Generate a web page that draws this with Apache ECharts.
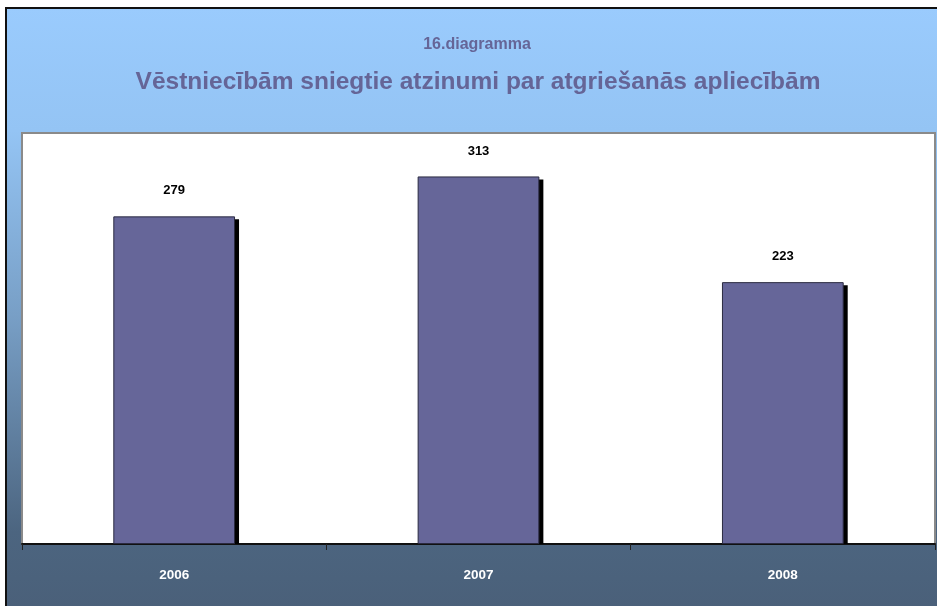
<!DOCTYPE html>
<html>
<head>
<meta charset="utf-8">
<script src="https://cdn.jsdelivr.net/npm/echarts@6/dist/echarts.min.js"></script>
<style>
html,body{margin:0;padding:0;background:#fff;}
#chart{width:937px;height:606px;}
</style>
</head>
<body>
<div id="chart"></div>
<script>
const years = ['2006', '2007', '2008'];
const counts = [279, 313, 223];
const titleSmall = '16.diagramma';
const titleMain = 'Vēstniecībām sniegtie atzinumi par atgriešanās apliecībām';

const colorSets = {
    title: '#656597',
    bar: '#666699',
    barBorder: '#2a2a40',
    shadow: '#000',
    plotBorder: '#8a8a8a'
};

const chart = echarts.init(document.getElementById('chart'));

chart.setOption({
    animation: false,
    textStyle: { fontFamily: 'Liberation Sans, Arial, sans-serif' },
    graphic: [
        {
            type: 'rect',
            z: -10,
            silent: true,
            shape: { x: 6, y: 8, width: 945, height: 615 },
            style: {
                stroke: '#111',
                lineWidth: 2,
                fill: new echarts.graphic.LinearGradient(0, 0, 0, 1, [
                    { offset: 0, color: '#9acbfd' },
                    { offset: 0.2, color: '#94c4f4' },
                    { offset: 0.5, color: '#789fc6' },
                    { offset: 0.85, color: '#4c6580' },
                    { offset: 1, color: '#4a5f78' }
                ])
            }
        },
        {
            type: 'text',
            x: 477, y: 45,
            style: {
                text: titleSmall,
                fill: colorSets.title,
                font: 'bold 16px Liberation Sans, Arial, sans-serif',
                textAlign: 'center',
                textVerticalAlign: 'middle'
            }
        },
        {
            type: 'text',
            x: 478, y: 82,
            style: {
                text: titleMain,
                fill: colorSets.title,
                font: 'bold 24.5px Liberation Sans, Arial, sans-serif',
                textAlign: 'center',
                textVerticalAlign: 'middle'
            }
        }
    ],
    grid: {
        show: true,
        left: 22,
        right: 2,
        top: 133,
        bottom: 62,
        backgroundColor: '#fff',
        borderColor: colorSets.plotBorder,
        borderWidth: 2
    },
    xAxis: {
        type: 'category',
        data: years,
        axisLine: { show: true, lineStyle: { color: '#111', width: 2 } },
        axisTick: { show: true, length: 6, lineStyle: { color: '#222' } },
        axisLabel: { color: '#fff', fontWeight: 'bold', fontSize: 13.5, margin: 24 }
    },
    yAxis: {
        type: 'value',
        min: 0,
        max: 350,
        show: false,
        splitLine: { show: false }
    },
    series: [
        {
            type: 'custom',
            z: 1,
            silent: true,
            renderItem: function (params, api) {
                const top = api.coord([api.value(0), api.value(1)]);
                const base = api.coord([api.value(0), 0]);
                const width = api.size([1, 0])[0] * 0.4;
                const rectShape = echarts.graphic.clipRectByRect(
                    {
                        x: top[0] - width / 2 + 4,
                        y: top[1] + 3,
                        width: width,
                        height: base[1] - top[1]
                    },
                    {
                        x: params.coordSys.x,
                        y: params.coordSys.y,
                        width: params.coordSys.width,
                        height: params.coordSys.height
                    }
                );
                return rectShape && {
                    type: 'rect',
                    shape: rectShape,
                    style: { fill: colorSets.shadow }
                };
            },
            encode: { x: 0, y: 1 },
            data: counts.map((v, i) => [i, v])
        },
        {
            type: 'bar',
            z: 2,
            barWidth: '40%',
            data: counts,
            itemStyle: {
                color: colorSets.bar,
                borderColor: colorSets.barBorder,
                borderWidth: 1
            },
            label: {
                show: true,
                position: 'top',
                distance: 19,
                color: '#000',
                fontWeight: 'bold',
                fontSize: 13
            }
        }
    ]
});
</script>
</body>
</html>
